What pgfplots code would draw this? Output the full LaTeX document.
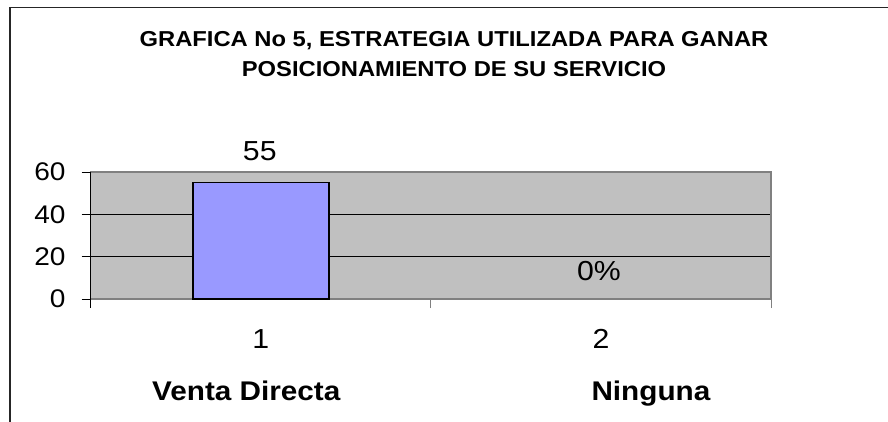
\documentclass[border=0pt]{standalone}
\usepackage{pgfplots}
\pgfplotsset{compat=1.18}
\usepackage{fontspec}
\setmainfont{Liberation Sans}[FakeStretch=1.1]
\definecolor{plotgray}{HTML}{C0C0C0}
\definecolor{barblue}{HTML}{9999FF}
\definecolor{bordergray}{HTML}{808080}
\begin{document}
\begin{tikzpicture}
\path[use as bounding box] (0pt,0pt) rectangle (888pt,-422pt);
\begin{scope}
\clip (0pt,0pt) rectangle (888pt,-422pt);
\draw[black!85, line width=1.4pt] (10pt,-440pt) -- (10pt,-7.3pt) -- (900pt,-7.3pt);
\end{scope}
\node[anchor=base, font=\fontsize{21.6}{25}\selectfont\bfseries] at (454pt,-46.9pt) {GRAFICA No 5, ESTRATEGIA UTILIZADA PARA GANAR};
\node[anchor=base, font=\fontsize{21.6}{25}\selectfont\bfseries] at (454pt,-76.2pt) {POSICIONAMIENTO DE SU SERVICIO};
\begin{axis}[
  at={(90.7pt,-299pt)}, anchor=south west,
  width=680.3pt, height=127pt, scale only axis,
  xmin=0.5, xmax=2.5, ymin=0, ymax=60,
  clip=false,
  axis background/.style={fill=plotgray},
  axis line style={draw=bordergray, line width=1.3pt},
  ytick={0,20,40,60}, yticklabels={0,20,40,60},
  ytick pos=left, xtick pos=bottom,
  tick align=outside, major tick length=9pt,
  ytick style={black, line width=1pt},
  xtick style={bordergray, line width=1pt},
  yticklabel style={anchor=east, inner sep=0pt, xshift=-16pt, font=\fontsize{25.5}{25}\selectfont},
  xtick={0.5,1.5,2.5}, xticklabels={},
  extra x ticks={1,2}, extra x tick labels={1,2},
  extra x tick style={major tick length=0pt, grid=none,
    xticklabel style={anchor=base, yshift=-49pt, font=\fontsize{27.5}{27}\selectfont}},
  ymajorgrids, grid style={black, line width=1pt},
]
\addplot[ybar, bar width=0.4, fill=barblue, draw=black, line width=1.8pt]
  coordinates {(1,55)};
\addplot[ybar, bar width=0.4, draw=none, fill=none]
  coordinates {(2,0)};
\draw[black, line width=1.3pt] (rel axis cs:0,0) -- (rel axis cs:0,1);
\draw[black, line width=1pt] (rel axis cs:0,0) -- ++(0pt,-9pt);
\node[anchor=base, font=\fontsize{27.5}{27}\selectfont] at (axis cs:1,55) [yshift=21.9pt, xshift=-1pt] {55};
\node[anchor=base, font=\fontsize{27.5}{27}\selectfont] at (axis cs:2,0) [yshift=19pt, xshift=-2pt] {0\%};
\node[anchor=base, font=\fontsize{27}{26}\selectfont\bfseries] at (axis cs:1,0) [xshift=-14.5pt, yshift=-101.5pt] {Venta Directa};
\node[anchor=base, font=\fontsize{27}{26}\selectfont\bfseries] at (axis cs:2,0) [xshift=50pt, yshift=-101.5pt] {Ninguna};
\end{axis}
\end{tikzpicture}
\end{document}
